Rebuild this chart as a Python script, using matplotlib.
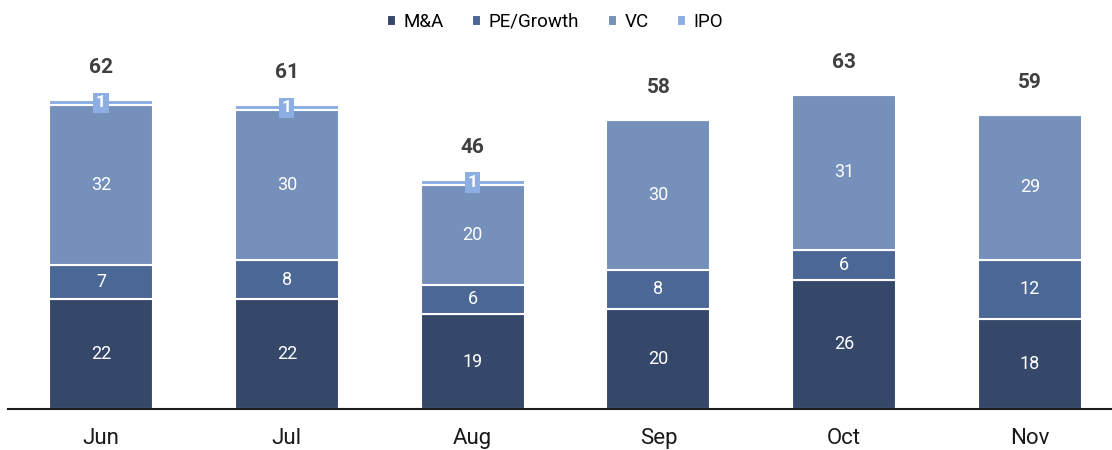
import matplotlib
matplotlib.use("Agg")
import matplotlib.pyplot as plt
import numpy as np

months = ["Jun", "Jul", "Aug", "Sep", "Oct", "Nov"]
mna = [22, 22, 19, 20, 26, 18]
pe = [7, 8, 6, 8, 6, 12]
vc = [32, 30, 20, 30, 31, 29]
ipo = [1, 1, 1, 0, 0, 0]
totals = [62, 61, 46, 58, 63, 59]

series = [("M&A", mna, "#36486a"), ("PE/Growth", pe, "#4b6795"),
          ("VC", vc, "#7590ba"), ("IPO", ipo, "#8daee3")]

plt.rcParams['font.family'] = ['Roboto', 'DejaVu Sans']

fig = plt.figure(figsize=(11.12, 4.5), dpi=100)
ax = fig.add_axes([8/1112, 1 - 409/450, 1115/1112, 369/450])
x = np.arange(len(months))
bottom = np.zeros(len(months))
handles = []
for name, vals, col in series:
    vals = np.array(vals, dtype=float)
    b = ax.bar(x, vals, bottom=bottom, width=0.56, color=col, edgecolor="white",
               linewidth=1.5, label=name, zorder=2)
    handles.append(b)
    for i, v in enumerate(vals):
        if v <= 0:
            continue
        yc = bottom[i] + v / 2
        if name == "IPO":
            ax.text(x[i], yc, f"{int(v)}", ha="center", va="center", color="white",
                    fontsize=12.5, fontweight="bold", zorder=4,
                    bbox=dict(boxstyle="square,pad=0.15", fc=col, ec="none"))
        else:
            ax.text(x[i], yc, f"{int(v)}", ha="center", va="center", color="white",
                    fontsize=13, zorder=3)
    bottom += vals

for i, t in enumerate(totals):
    ax.text(x[i], bottom[i] + 6.5, str(t), ha="center", va="center",
            fontsize=15, fontweight="bold", color="#404040")

ax.set_xlim(-0.5, 5.5)
ax.set_ylim(0, 74.1)
ax.set_xticks(x)
ax.set_xticklabels(months, fontsize=16, color="#1a1a1a")
ax.tick_params(axis="x", length=0, pad=14)
ax.set_yticks([])
for s in ["top", "right", "left"]:
    ax.spines[s].set_visible(False)
ax.spines["bottom"].set_color("#1a1a1a")
ax.spines["bottom"].set_linewidth(1.5)

fig.legend(handles=handles, labels=[s[0] for s in series], loc="center",
           bbox_to_anchor=(555/1112, 1 - 22/450), ncol=4, frameon=False,
           fontsize=13.5, handlelength=0.5, handleheight=0.5, handletextpad=0.4,
           columnspacing=1.5)

fig.savefig("out.png", dpi=100)
